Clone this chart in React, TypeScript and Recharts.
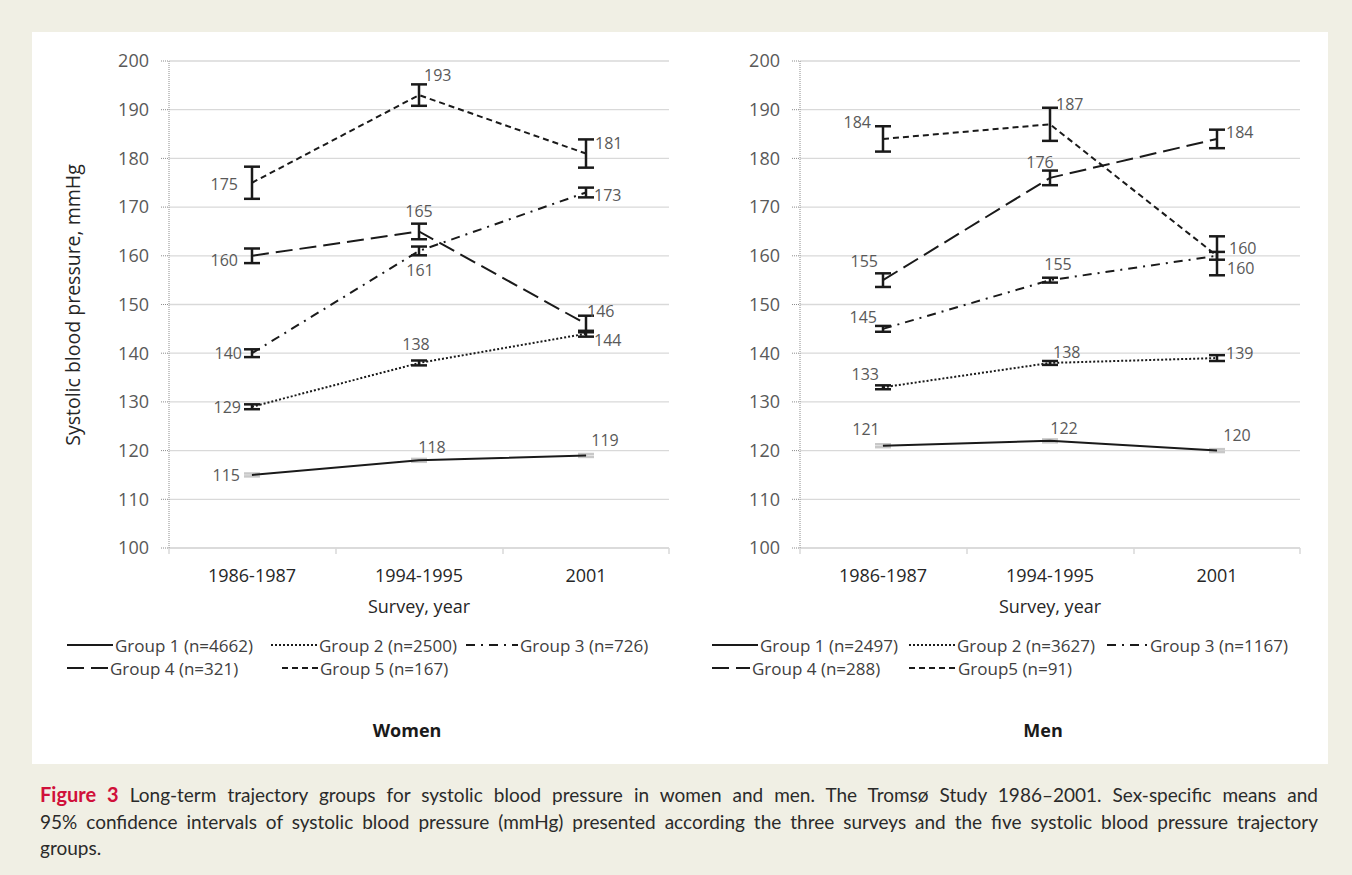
import React from "react"
import { LineChart, Line, XAxis, YAxis, CartesianGrid, ErrorBar, LabelList } from "recharts"

// survey rounds (categories)
const surveys = ["1986-1987", "1994-1995", "2001"]
const yTicks = [100, 110, 120, 130, 140, 150, 160, 170, 180, 190, 200]

// women: mean SBP per trajectory group
const womenG1 = [115, 118, 119]
const womenG2 = [129, 138, 144]
const womenG3 = [140, 161, 173]
const womenG4 = [160, 165, 146]
const womenG5 = [175, 193, 181]
// women: half width of 95% CI
const womenG1Ci = [0.3, 0.3, 0.3]
const womenG2Ci = [0.5, 0.5, 0.6]
const womenG3Ci = [0.8, 0.9, 1.0]
const womenG4Ci = [1.5, 1.6, 1.7]
const womenG5Ci = [3.3, 2.2, 2.9]
const womenLegend = ["Group 1 (n=4662)", "Group 2 (n=2500)", "Group 3 (n=726)", "Group 4 (n=321)", "Group 5 (n=167)"]

// men
const menG1 = [121, 122, 120]
const menG2 = [133, 138, 139]
const menG3 = [145, 155, 160]
const menG4 = [155, 176, 184]
const menG5 = [184, 187, 160]
const menG1Ci = [0.3, 0.3, 0.3]
const menG2Ci = [0.4, 0.4, 0.6]
const menG3Ci = [0.6, 0.5, 0.8]
const menG4Ci = [1.4, 1.5, 1.9]
const menG5Ci = [2.6, 3.4, 4.0]
const menLegend = ["Group 1 (n=2497)", "Group 2 (n=3627)", "Group 3 (n=1167)", "Group 4 (n=288)", "Group5 (n=91)"]

const dashes = [undefined, "2 2", "9 6 2 6", "17 7", "6 4"]
const INK = "#1a1a1a"
const FONT = "'Open Sans', sans-serif"
const HALF = 83

type Pos = [string, number, number]
// label placement per group / point: anchor, dx, dy
const womenLabelPos: Pos[][] = [
  [["end", -12, 0], ["middle", 13, -13], ["middle", 19, -15]],
  [["end", -11, 0], ["middle", -3, -19], ["start", 8, 6]],
  [["end", -10, 0], ["middle", 1, 19], ["start", 8, 3]],
  [["end", -14, 4], ["middle", 0, -20], ["start", 1, -13]],
  [["end", -14, 1], ["start", 5, -20], ["start", 9, -11]],
]
const menLabelPos: Pos[][] = [
  [["middle", -17, -17], ["middle", 14, -13], ["middle", 20, -16]],
  [["end", -4, -13], ["start", 3, -11], ["start", 9, -5]],
  [["end", -6, -12], ["middle", 8, -16], ["start", 12, -8]],
  [["end", -5, -19], ["middle", -10, -16], ["start", 9, -7]],
  [["end", -12, -17], ["start", 6, -20], ["start", 10, 12]],
]

function buildData(groups: number[][], cis: number[][]) {
  return surveys.map((s, i) => {
    const row: any = { survey: s }
    groups.forEach((g, k) => { row["g" + (k + 1)] = g[i]; row["e" + (k + 1)] = cis[k][i] })
    return row
  })
}

const womenData = buildData([womenG1, womenG2, womenG3, womenG4, womenG5], [womenG1Ci, womenG2Ci, womenG3Ci, womenG4Ci, womenG5Ci])
const menData = buildData([menG1, menG2, menG3, menG4, menG5], [menG1Ci, menG2Ci, menG3Ci, menG4Ci, menG5Ci])

const XTick = (props: any) => {
  const { x, y, payload, index, visibleTicksCount } = props
  const ay = y - 8
  return (
    <g>
      <line x1={x - HALF} x2={x - HALF} y1={ay} y2={ay + 6} stroke="#d9d9d9" strokeWidth={1.5} />
      {index === visibleTicksCount - 1 && <line x1={x + HALF} x2={x + HALF} y1={ay} y2={ay + 6} stroke="#d9d9d9" strokeWidth={1.5} />}
      <text x={x} y={y} dy={26} textAnchor="middle" fill="#262626" fontSize={18} fontFamily={FONT}>{payload.value}</text>
    </g>
  )
}

const labelRenderer = (pos: Pos[]) => (props: any) => {
  const { x, y, value, index } = props
  const p = pos[index]
  return (
    <text x={x + p[1]} y={y + p[2]} textAnchor={p[0] as any} dominantBaseline="central" fill="#595959" fontSize={16} fontFamily={FONT}>{value}</text>
  )
}

function Panel({ data, labelPos, left }: { data: any[], labelPos: Pos[][], left: number }) {
  return (
    <div style={{ position: "absolute", left, top: 0 }}>
      <LineChart width={700} height={620} data={data} margin={{ top: 61, right: 31, bottom: 42, left: 0 }}>
        <CartesianGrid vertical={false} stroke="#d9d9d9" strokeWidth={1.3} />
        <XAxis dataKey="survey" padding={{ left: HALF, right: HALF }} height={30} tickLine={false}
          axisLine={{ stroke: "#d9d9d9", strokeWidth: 1.5 }} tick={<XTick />} interval={0} />
        <YAxis domain={[100, 200]} ticks={yTicks} width={169} tickSize={8} tickMargin={12}
          axisLine={{ stroke: "#8c8c8c", strokeDasharray: "1 1" }} tickLine={{ stroke: "#8c8c8c", strokeDasharray: "1 1" }}
          tick={{ fill: "#595959", fontSize: 18, fontFamily: FONT }} />
        {[1, 2, 3, 4, 5].map(k => (
          <Line key={k} dataKey={"g" + k} stroke={INK} strokeWidth={2} strokeDasharray={dashes[k - 1]} dot={false}
            isAnimationActive={false}>
            <ErrorBar dataKey={"e" + k} width={8} strokeWidth={2.5} stroke={k === 1 ? "#c8c8c8" : INK} direction="y" isAnimationActive={false} />
            <LabelList dataKey={"g" + k} content={labelRenderer(labelPos[k - 1])} />
          </Line>
        ))}
      </LineChart>
    </div>
  )
}

function LegendItem({ x, y, sample, label, dash }: { x: number, y: number, sample: number, label: string, dash?: string }) {
  return (
    <div style={{ position: "absolute", left: x, top: y - 12, height: 24, display: "flex", alignItems: "center", whiteSpace: "nowrap" }}>
      <svg width={sample} height={6} style={{ marginRight: 2 }}>
        <line x1={0} x2={sample} y1={3} y2={3} stroke={INK} strokeWidth={2} strokeDasharray={dash} />
      </svg>
      <span style={{ fontSize: 17, color: "#404040", fontFamily: FONT }}>{label}</span>
    </div>
  )
}

export default function App() {
  const wl = [[67, 645, 46], [271, 645, 46], [466, 645, 52], [67, 668, 41], [282, 668, 36]]
  const ml = [[712, 645, 46], [909, 645, 46], [1107, 645, 41], [712, 668, 38], [909, 668, 47]]
  return (
    <div style={{ position: "absolute", left: 0, top: 0, width: 1352, height: 875, background: "#f0efe4", fontFamily: FONT }}>
      <div style={{ position: "absolute", left: 32, top: 32, width: 1296, height: 732, background: "#fff" }} />
      <Panel data={womenData} labelPos={womenLabelPos} left={0} />
      <Panel data={menData} labelPos={menLabelPos} left={631} />
      <div style={{ position: "absolute", left: 72, top: 305, transform: "translate(-50%, -50%) rotate(-90deg)", fontSize: 19.5, color: "#262626", whiteSpace: "nowrap" }}>
        Systolic blood pressure, mmHg
      </div>
      <div style={{ position: "absolute", left: 419, top: 606, transform: "translate(-50%, -50%)", fontSize: 18, color: "#262626", whiteSpace: "nowrap" }}>Survey, year</div>
      <div style={{ position: "absolute", left: 1050, top: 606, transform: "translate(-50%, -50%)", fontSize: 18, color: "#262626", whiteSpace: "nowrap" }}>Survey, year</div>
      {wl.map((p, i) => <LegendItem key={"w" + i} x={p[0]} y={p[1]} sample={p[2]} label={womenLegend[i]} dash={dashes[i]} />)}
      {ml.map((p, i) => <LegendItem key={"m" + i} x={p[0]} y={p[1]} sample={p[2]} label={menLegend[i]} dash={dashes[i]} />)}
      <div style={{ position: "absolute", left: 407, top: 730, transform: "translate(-50%, -50%)", fontSize: 18, fontWeight: 700, color: "#1a1a1a" }}>Women</div>
      <div style={{ position: "absolute", left: 1043, top: 730, transform: "translate(-50%, -50%)", fontSize: 18, fontWeight: 700, color: "#1a1a1a" }}>Men</div>
      <div style={{ position: "absolute", left: 40, top: 781, width: 1278, fontFamily: "Lato, sans-serif", fontSize: 19, color: "#2a2a2a", lineHeight: "26.5px" }}>
        <div style={{ textAlign: "justify", textAlignLast: "justify" }}>
          <span style={{ color: "#d0103a", fontWeight: 700, fontSize: 20 }}>Figure 3</span> Long-term trajectory groups for systolic blood pressure in women and men. The Tromsø Study 1986–2001. Sex-specific means and
        </div>
        <div style={{ textAlign: "justify", textAlignLast: "justify" }}>
          95% confidence intervals of systolic blood pressure (mmHg) presented according the three surveys and the five systolic blood pressure trajectory
        </div>
        <div>groups.</div>
      </div>
    </div>
  )
}
